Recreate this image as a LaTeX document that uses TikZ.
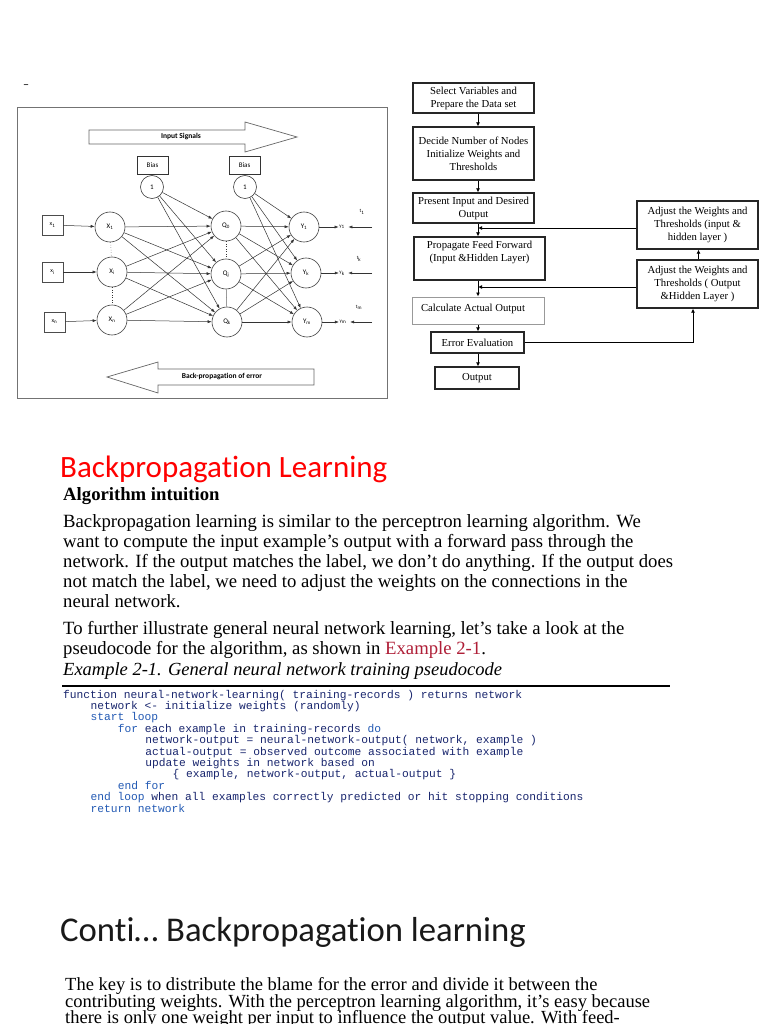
\documentclass[tikz,border=0pt]{standalone}
\usepackage{fontspec}
\setmainfont{Liberation Serif}
\setmonofont{Liberation Mono}
\newfontfamily\calfont[Ligatures=NoCommon]{Carlito}
\usetikzlibrary{arrows.meta,calc}
\definecolor{navy}{RGB}{25,38,110}
\definecolor{kwblue}{RGB}{35,90,180}
\definecolor{exred}{RGB}{175,30,55}
\definecolor{titlered}{RGB}{255,0,0}
\newcommand\myfs[2]{\fontsize{#1}{#2}\selectfont}
\tikzset{
  neuron/.style={circle, draw=black!75, line width=0.6pt, minimum size=30, inner sep=0pt, fill=white, font=\calfont\myfs{7}{8}},
  biasc/.style={circle, draw=black!75, line width=0.6pt, minimum size=23, inner sep=0pt, fill=white, font=\calfont\myfs{7}{8}},
  inbox/.style={draw=black!70, line width=0.8pt, minimum width=21, minimum height=20, inner sep=0pt, font=\calfont\myfs{6}{7}},
  biasbox/.style={draw=black!80, line width=0.8pt, minimum width=31, minimum height=18, inner sep=0pt, font=\calfont\myfs{7}{8}},
  lbl/.style={inner sep=0.5pt, font=\calfont\myfs{5}{6}},
  wire/.style={line width=0.5pt, draw=black!80},
  arr/.style={-{Latex[length=4pt,width=3pt]}},
  bigarrow/.style={draw=black!60, line width=0.7pt, fill=white},
  fbox/.style={draw=black!85, line width=1.3pt, font=\myfs{10.7}{13}, align=center, inner sep=0pt},
  ftext/.style={font=\myfs{10.7}{13}, align=center, inner sep=0pt},
  flowarr/.style={line width=0.9pt, -{Latex[length=4pt,width=4pt]}},
  txt/.style={anchor=base west, inner sep=0pt, font=\myfs{18.7}{20}},
  code/.style={anchor=base west, inner sep=0pt, font=\ttfamily\myfs{11.25}{11.4}, text=navy},
  last/.style={anchor=base west, inner sep=0pt, font=\myfs{18.5}{17}}
}
\begin{document}
\begin{tikzpicture}[x=1pt,y=-1pt]
\useasboundingbox (0,0) rectangle (768,1024);
\fill[white] (0,0) rectangle (768,1024);

% ---------------- neural network figure ----------------
\node[inner sep=0pt, font=\calfont\myfs{12}{12}] (dash) at (26,87) {–};
\draw[draw=black!55, line width=1pt] (17,108) rectangle (387,398);

\draw[bigarrow] (89,130) -- (245,130) -- (245,122) -- (297,137) -- (245,152) -- (245,144) -- (89,144) -- cycle;
\node[inner sep=0pt, font=\calfont\bfseries\myfs{7.5}{8}] (insig) at (181,137) {Input Signals};
\draw[bigarrow] (314,369) -- (158,369) -- (158,362) -- (107,377) -- (158,393) -- (158,385) -- (314,385) -- cycle;
\node[inner sep=0pt, font=\calfont\bfseries\myfs{7.5}{8}] (backp) at (222,377) {Back-propagation of error};

\node[biasbox] (bb1) at (152.5,165) {Bias};
\node[biasbox] (bb2) at (244.5,165) {Bias};
\node[biasc] (b1c) at (152,187) {1};
\node[biasc] (b2c) at (245,187) {1};

\node[inbox] (in1) at (52.5,225) {x\textsubscript{1}};
\node[inbox] (ini) at (52.5,272) {x\textsubscript{i}};
\node[inbox] (inn) at (54.5,322) {x\textsubscript{n}};

\node[neuron] (x1n) at (110,227) {X\textsubscript{1}};
\node[neuron] (xin) at (112,272) {X\textsubscript{i}};
\node[neuron] (xnn) at (112,320) {X\textsubscript{n}};
\node[neuron] (q0) at (226,226) {Q\textsubscript{0}};
\node[neuron] (qj) at (226,274) {Q\textsubscript{j}};
\node[neuron] (qk) at (227,322) {Q\textsubscript{k}};
\node[neuron] (y1) at (304,227) {Y\textsubscript{1}};
\node[neuron] (yk) at (306,273) {Y\textsubscript{k}};
\node[neuron] (ym) at (307,322) {Y\textsubscript{m}};

\draw[wire, dotted] (x1n) -- (xin);
\draw[wire, dotted] (xin) -- (xnn);
\draw[wire, dotted] (q0) -- (qj);
\draw[wire, black!60] (qj) -- (qk);

\draw[wire,arr] (in1) -- (x1n);
\draw[wire,arr] (ini) -- (xin);
\draw[wire,arr] (inn) -- (xnn);

\foreach \s in {x1n,xin,xnn,b1c}
  \foreach \t in {q0,qj,qk}
    \draw[wire,arr] (\s) -- (\t);
\foreach \s in {q0,qj,qk,b2c}
  \foreach \t in {y1,yk,ym}
    \draw[wire,arr] (\s) -- (\t);

\node[lbl] (o1) at (342,227) {y\textsubscript{1}};
\node[lbl] (ok) at (342,273) {y\textsubscript{k}};
\node[lbl] (om) at (343,322) {y\textsubscript{m}};
\draw[wire,arr] (y1) -- (o1);
\draw[wire,arr] (yk) -- (ok);
\draw[wire,arr] (ym) -- (om);
\coordinate (ts1) at (372,227);
\coordinate (tsk) at (372,273);
\coordinate (tsm) at (372,322);
\draw[wire,arr,shorten >=3pt] (ts1) -- (o1);
\draw[wire,arr,shorten >=3pt] (tsk) -- (ok);
\draw[wire,arr,shorten >=3pt] (tsm) -- (om);
\node[lbl] (t1) at (362,212) {t\textsubscript{1}};
\node[lbl] (tk) at (359,259) {t\textsubscript{k}};
\node[lbl] (tm) at (359,307) {t\textsubscript{m}};

% ---------------- flowchart ----------------
\coordinate (mx) at (478,0);
\node[fbox, minimum width=121, minimum height=30] (f1) at (473.5,98) {Select Variables and\\Prepare the Data set};
\node[fbox, minimum width=121, minimum height=53] (f2) at (473.5,153.5) {Decide Number of Nodes\\Initialize Weights and\\Thresholds};
\node[fbox, minimum width=121, minimum height=30] (f3) at (473.5,208) {Present Input and Desired\\Output};
\node[fbox, minimum width=131, minimum height=43] (f4) at (479.5,258.5) {};
\node[ftext] (f4t) at (479.5,252) {Propagate Feed Forward\\(Input \&Hidden Layer)};
\node[fbox, draw=black!40, line width=1pt, minimum width=132, minimum height=27] (f5) at (478,310.5) {};
\node[ftext] (f5t) at (473,309) {Calculate Actual Output};
\node[fbox, minimum width=93, minimum height=21] (f6) at (477.5,342.5) {Error Evaluation};
\node[fbox, minimum width=84, minimum height=22] (f7) at (477,378) {Output};
\node[fbox, minimum width=121, minimum height=48] (r1) at (697.5,225) {Adjust the Weights and\\Thresholds (input \&\\hidden layer )};
\node[fbox, minimum width=121, minimum height=48] (r2) at (697.5,284) {Adjust the Weights and\\Thresholds ( Output\\\&Hidden Layer )};

\draw[flowarr] (f1.south -| mx) -- (f2.north -| mx);
\draw[flowarr] (f2.south -| mx) -- (f3.north -| mx);
\draw[flowarr] (f3.south -| mx) -- (f4.north -| mx);
\draw[flowarr] ([yshift=-3pt]r1.west) -- ([yshift=-3pt]r1.west -| mx);
\draw[flowarr] (f4.south -| mx) -- (f5.north -| mx);
\draw[flowarr] ([yshift=-3pt]r2.west) -- ([yshift=-3pt]r2.west -| mx);
\draw[flowarr] (f5.south -| mx) -- (f6.north -| mx);
\draw[flowarr] (f6.south -| mx) -- (f7.north -| mx);
\draw[flowarr] (f6.east) -| ([xshift=-4.5pt]r2.south);
\draw[flowarr] ([xshift=1pt]r2.north) -- ([xshift=1pt]r1.south);

% ---------------- text ----------------
\node[anchor=base west, inner sep=0pt, font=\calfont\myfs{31}{36}, text=titlered] (title1) at (60,477) {Backpropagation Learning};
\node[txt, font=\bfseries\myfs{18.7}{20}] (head1) at (63,500) {Algorithm intuition};
\node[txt] (p1) at (63,527) {Backpropagation learning is similar to the perceptron learning algorithm. We};
\node[txt] (p2) at (63,547) {want to compute the input example’s output with a forward pass through the};
\node[txt] (p3) at (63,567) {network. If the output matches the label, we don’t do anything. If the output does};
\node[txt] (p4) at (63,587) {not match the label, we need to adjust the weights on the connections in the};
\node[txt] (p5) at (63,607) {neural network.};
\node[txt] (p6) at (63,634) {To further illustrate general neural network learning, let’s take a look at the};
\node[txt] (p7) at (63,654) {pseudocode for the algorithm, as shown in \textcolor{exred}{Example 2-1}.};
\node[txt, font=\itshape\myfs{18.5}{20}] (cap) at (63,675) {Example 2-1. General neural network training pseudocode};
\draw[line width=2pt] (62,686) -- (670,686);

\node[code] (c1) at (63,698) {function neural-network-learning( training-records ) returns network};
\node[code] (c2) at (90.4,709.4) {network <- initialize weights (randomly)};
\node[code, text=kwblue] (c3) at (90.4,720.8) {start loop};
\node[code] (c4) at (117.7,732.2) {\textcolor{kwblue}{for} each example in training-records \textcolor{kwblue}{do}};
\node[code] (c5) at (145.1,743.6) {network-output = neural-network-output( network, example )};
\node[code] (c6) at (145.1,755.0) {actual-output = observed outcome associated with example};
\node[code] (c7) at (145.1,766.4) {update weights in network based on};
\node[code] (c8) at (172.4,777.8) {\{ example, network-output, actual-output \}};
\node[code, text=kwblue] (c9) at (117.7,789.2) {end for};
\node[code] (c10) at (90.4,800.6) {\textcolor{kwblue}{end loop} when all examples correctly predicted or hit stopping conditions};
\node[code, text=kwblue] (c11) at (90.4,812.0) {return network};

\node[anchor=base west, inner sep=0pt, font=\calfont\myfs{34.7}{40}, text=black!90] (title2) at (60,941) {Conti… Backpropagation learning};
\node[last] (l1) at (65,990) {The key is to distribute the blame for the error and divide it between the};
\node[last] (l2) at (65,1007) {contributing weights. With the perceptron learning algorithm, it’s easy because};
\node[last] (l3) at (65,1023) {there is only one weight per input to influence the output value. With feed-};
\end{tikzpicture}
\end{document}
